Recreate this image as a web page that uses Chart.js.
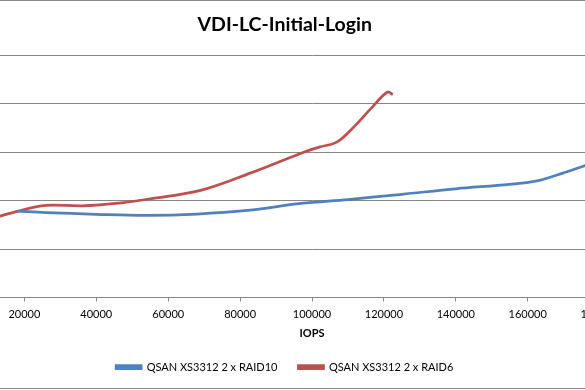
<!DOCTYPE html>
<html>
<head>
<meta charset="utf-8">
<script src="https://cdn.jsdelivr.net/npm/chart.js@4.4.1/dist/chart.umd.min.js"></script>
<style>
  html, body { margin: 0; padding: 0; background: #fff; }
  #view { position: relative; width: 585px; height: 390px; overflow: hidden; background: #fff; }
  /* the Excel chart is wider than the picture, so it is cropped on both sides */
  #frame { position: absolute; left: -103px; top: 0; width: 788px; height: 387px; border: 1px solid #8a8a8a; border-radius: 6px; }
  #chart { display: block; }
</style>
</head>
<body>
<div id="view">
  <div id="frame">
    <canvas id="chart" width="788" height="387"></canvas>
  </div>
</div>
<script>
// Series data (IOPS vs response time)
const raid10Iops = [18000, 26000, 40000, 54000, 68000, 82000, 97000, 110000, 125000, 140000, 155000, 163000, 170000, 176000, 185000];
const raid10Resp = [891, 876, 858, 847, 860, 897, 970, 1010, 1064, 1121, 1167, 1205, 1285, 1360, 1490];

const raid6Iops = [6000, 18000, 26000, 36000, 47000, 55000, 69000, 83000, 97000, 102000, 107000, 112000, 117000, 121000, 122500];
const raid6Resp = [759, 888, 950, 945, 976, 1018, 1105, 1285, 1488, 1550, 1605, 1772, 1973, 2118, 2092];

const seriesNames = ['QSAN XS3312 2 x RAID10', 'QSAN XS3312 2 x RAID6'];

// Axis ranges
const xMin = 0, xMax = 200000, xStep = 20000;
const yMin = 0, yMax = 2500, yStep = 500;

const colors = {
  raid10: '#4f81bd',
  raid6: '#c0504d',
  grid: '#878787'
};

const fontFamily = 'Lato, "Open Sans", sans-serif';

function toPoints(xs, ys) {
  return xs.map((x, i) => ({ x: x, y: ys[i] }));
}

const ctx = document.getElementById('chart');

new Chart(ctx, {
  type: 'line',
  data: {
    datasets: [{
      label: seriesNames[0],
      data: toPoints(raid10Iops, raid10Resp),
      borderColor: colors.raid10,
      backgroundColor: colors.raid10,
      borderWidth: 2.75,
      pointRadius: 0,
      tension: 0.35,
      fill: false
    }, {
      label: seriesNames[1],
      data: toPoints(raid6Iops, raid6Resp),
      borderColor: colors.raid6,
      backgroundColor: colors.raid6,
      borderWidth: 2.75,
      pointRadius: 0,
      tension: 0.35,
      fill: false
    }]
  },
  options: {
    responsive: false,
    animation: false,
    layout: {
      padding: { left: 0, right: 14.5, top: 0, bottom: 5.5 }
    },
    plugins: {
      title: {
        display: true,
        text: 'VDI-LC-Initial-Login',
        color: '#000',
        font: { family: fontFamily, size: 19.5, weight: 'bold' },
        padding: { top: 12.3, bottom: 18.3 }
      },
      legend: {
        position: 'bottom',
        labels: {
          color: '#000',
          font: { family: fontFamily, size: 11 },
          boxWidth: 25,
          boxHeight: 3,
          padding: 21
        }
      },
      tooltip: { enabled: false }
    },
    scales: {
      x: {
        type: 'linear',
        min: xMin,
        max: xMax,
        ticks: {
          stepSize: xStep,
          autoSkip: false,
          maxRotation: 0,
          padding: 6,
          color: '#000',
          font: { family: fontFamily, size: 11 },
          callback: function(value) { return String(value); }
        },
        grid: {
          drawOnChartArea: false,
          drawTicks: true,
          tickLength: 4,
          tickColor: colors.grid
        },
        border: { display: true, color: colors.grid },
        title: {
          display: true,
          text: 'IOPS',
          color: '#000',
          font: { family: fontFamily, size: 11, weight: 'bold' },
          padding: { top: 0, bottom: 0 }
        },
        afterFit: function(scale) {
          scale.height = 43;
          scale.paddingLeft = 0;
          scale.paddingRight = 0;
        }
      },
      y: {
        min: yMin,
        max: yMax,
        ticks: {
          stepSize: yStep,
          color: '#000',
          font: { family: fontFamily, size: 11 }
        },
        grid: {
          color: colors.grid,
          drawTicks: false
        },
        border: { display: true, color: colors.grid },
        afterFit: function(scale) {
          scale.width = 54.5;
          scale.paddingTop = 0;
          scale.paddingBottom = 0;
        }
      }
    }
  }
});
</script>
</body>
</html>
